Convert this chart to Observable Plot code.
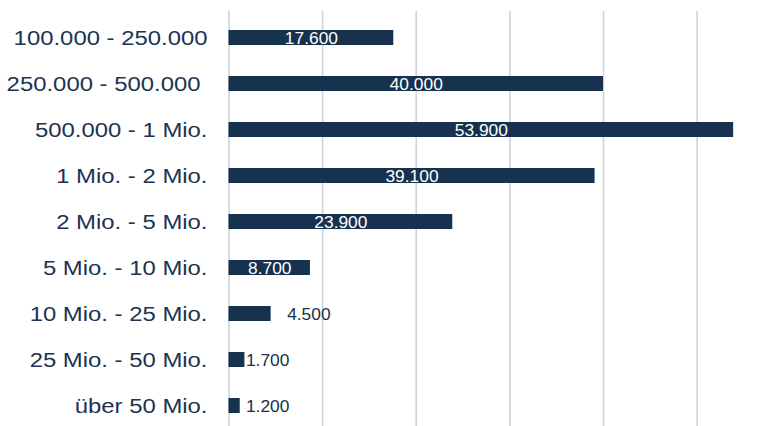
<!DOCTYPE html>
<html>
<head>
<meta charset="utf-8">
<script src="https://cdn.jsdelivr.net/npm/d3@7"></script>
<script src="https://cdn.jsdelivr.net/npm/@observablehq/plot@0.6"></script>
<style>
  html, body { margin: 0; padding: 0; background: #fff; }
  #chart svg { display: block; }
  #chart svg text { font-family: "Liberation Sans", Arial, sans-serif !important; }
  [aria-label="y-axis tick label"] text { white-space: pre; fill: #1b3350; }
</style>
</head>
<body>
<div id="chart"></div>
<script>
const categories = [
  "100.000 - 250.000",
  "250.000 - 500.000 ",
  "500.000 - 1 Mio.",
  "1 Mio. - 2 Mio.",
  "2 Mio. - 5 Mio.",
  "5 Mio. - 10 Mio.",
  "10 Mio. - 25 Mio.",
  "25 Mio. - 50 Mio.",
  "über 50 Mio."
];
const values = [17600, 40000, 53900, 39100, 23900, 8700, 4500, 1700, 1200];
const gridTicks = [0, 10000, 20000, 30000, 40000, 50000];

const de = d3.formatLocale({decimal: ",", thousands: ".", grouping: [3], currency: ["", " €"]});
const fmt = de.format(",");

const data = categories.map((c, i) => ({cat: c, v: values[i], label: fmt(values[i])}));
const inside = data.filter(d => d.v >= 8000);
const mid = data.filter(d => d.v >= 3000 && d.v < 8000);
const tiny = data.filter(d => d.v < 3000);

const barColor = "#17324f";

const chart = Plot.plot({
  width: 782,
  height: 426,
  marginTop: 11,
  marginBottom: 0,
  marginLeft: 228,
  marginRight: 0,
  style: {fontFamily: "'Liberation Sans', Arial, sans-serif", background: "#fff"},
  x: {domain: [0, 60000], range: [228.5, 228.5 + 60000 * 374.5 / 40000], axis: null},
  y: {domain: categories, range: [26.8, 417.2], paddingInner: 0.67, paddingOuter: 0, axis: null},
  marks: [
    Plot.ruleX(gridTicks, {stroke: "#ccd3dc", strokeWidth: 1.6}),
    Plot.barX(data, {y: "cat", x: "v", fill: barColor}),
    Plot.axisY({anchor: "left", tickSize: 0, tickPadding: 21, fontSize: 20.5, label: null}),
    Plot.text(inside, {y: "cat", x: d => d.v / 2, text: "label", fill: "white", fontSize: 15.8, dy: 1}),
    Plot.text(mid, {y: "cat", x: "v", text: "label", fill: "#1b2f47", fontSize: 15.8, textAnchor: "start", dx: 16, dy: 1}),
    Plot.text(tiny, {y: "cat", x: () => 1700, text: "label", fill: "#1b2f47", fontSize: 15.8, textAnchor: "start", dx: 1, dy: 1})
  ]
});
document.getElementById("chart").appendChild(chart);

// Widen glyphs horizontally to match the reference's stretched type
d3.select(chart).selectAll("text").each(function() {
  const isAxis = this.closest('[aria-label="y-axis tick label"]') != null;
  const f = isAxis ? 1.165 : 1.10;
  const t = this.textContent;
  const trimmed = t.replace(/\s+$/, "");
  if (trimmed !== t) { this.textContent = trimmed; this.setAttribute("dx", (+(this.getAttribute("dx") || 0) - 7) + ""); }
  const len = this.getComputedTextLength();
  this.setAttribute("textLength", (len * f).toFixed(2));
  this.setAttribute("lengthAdjust", "spacingAndGlyphs");
});
</script>
</body>
</html>
